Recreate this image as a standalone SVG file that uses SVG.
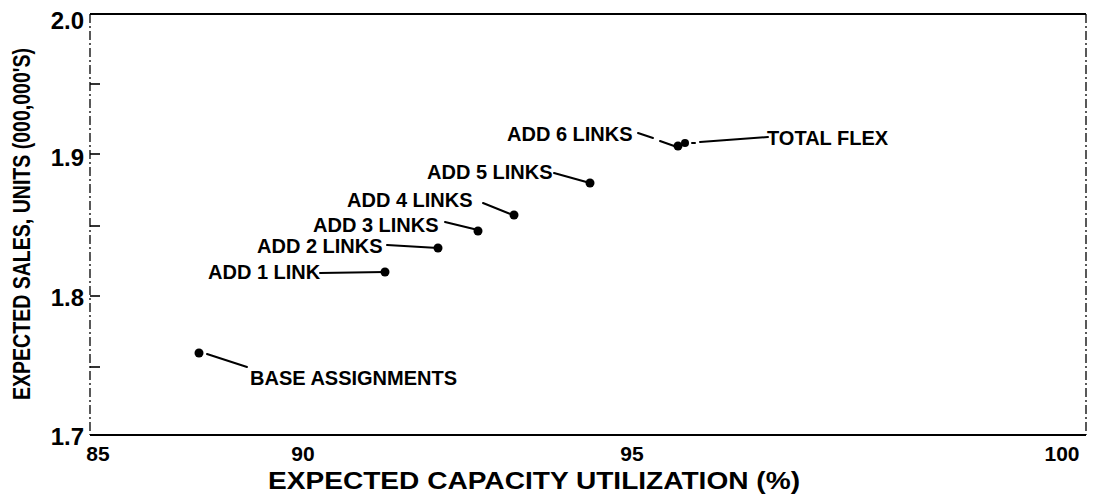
<svg xmlns="http://www.w3.org/2000/svg" width="1110" height="500" viewBox="0 0 1110 500">
<style>
.t{font-family:"Liberation Sans",Arial,sans-serif;font-weight:bold;fill:#000}
.lab{font-size:20px}
.yt{font-size:24px;text-anchor:end}
.xt{font-size:21px;text-anchor:middle}
.ld{stroke:#000;stroke-width:2;fill:none;stroke-linecap:round}
.dot{fill:#000}
.ax{stroke:#000;fill:none}
</style>
<rect width="1110" height="500" fill="#fff"/>
<g id="axes">
<line class="ax" x1="90" y1="14" x2="1086" y2="14" stroke-width="2.2"/>
<line class="ax" x1="90" y1="435" x2="1086" y2="435" stroke-width="2.2"/>
<line class="ax" x1="90" y1="14" x2="90" y2="435" stroke-width="1.3" stroke-dasharray="9 3 2 3"/>
<line class="ax" x1="1086" y1="14" x2="1086" y2="435" stroke-width="1.3" stroke-dasharray="9 3 2 3"/>
<g stroke="#000" stroke-width="1.6">
<line x1="90" y1="84" x2="100" y2="84"/>
<line x1="90" y1="154" x2="100" y2="154"/>
<line x1="90" y1="226" x2="100" y2="226"/>
<line x1="90" y1="296" x2="100" y2="296"/>
<line x1="90" y1="367" x2="100" y2="367"/>
</g>
<text class="t yt" x="84" y="29">2.0</text>
<text class="t yt" x="84" y="166">1.9</text>
<text class="t yt" x="84" y="306">1.8</text>
<text class="t yt" x="84" y="445">1.7</text>
<text class="t xt" x="98" y="461">85</text>
<text class="t xt" x="303" y="461">90</text>
<text class="t xt" x="632" y="461">95</text>
<text class="t xt" x="1062" y="461">100</text>
<text class="t" x="534" y="489" font-size="24" text-anchor="middle" textLength="532" lengthAdjust="spacingAndGlyphs">EXPECTED CAPACITY UTILIZATION (%)</text>
<text class="t" transform="translate(30,224) rotate(-90)" font-size="23" text-anchor="middle" textLength="352" lengthAdjust="spacingAndGlyphs">EXPECTED SALES, UNITS (000,000'S)</text>
</g>
<g id="connectors">
<line class="ld" x1="207" y1="354" x2="247" y2="367"/>
<line class="ld" x1="320" y1="273" x2="385" y2="272"/>
<line class="ld" x1="387" y1="245" x2="438" y2="248"/>
<line class="ld" x1="445" y1="222" x2="478" y2="230"/>
<line class="ld" x1="483" y1="203" x2="513" y2="215"/>
<line class="ld" x1="554" y1="173" x2="590" y2="183"/>
<line class="ld" x1="638" y1="133" x2="653" y2="138"/>
<line class="ld" x1="660" y1="141" x2="677" y2="147"/>
<line class="ld" x1="692" y1="143" x2="695" y2="143"/>
<line class="ld" x1="700" y1="142" x2="768" y2="137"/>
</g>
<g id="base"><circle class="dot" cx="199" cy="353" r="4.5"/><text class="t lab" x="250" y="385">BASE ASSIGNMENTS</text></g>
<g id="add1"><circle class="dot" cx="385" cy="272" r="4.5"/><text class="t lab" x="208" y="279">ADD 1 LINK</text></g>
<g id="add2"><circle class="dot" cx="438" cy="248" r="4.5"/><text class="t lab" x="257" y="253">ADD 2 LINKS</text></g>
<g id="add3"><circle class="dot" cx="478" cy="231" r="4.5"/><text class="t lab" x="313" y="232">ADD 3 LINKS</text></g>
<g id="add4"><circle class="dot" cx="514" cy="215" r="4.5"/><text class="t lab" x="347" y="207">ADD 4 LINKS</text></g>
<g id="add5"><circle class="dot" cx="590" cy="183" r="4.5"/><text class="t lab" x="427" y="179">ADD 5 LINKS</text></g>
<g id="add6"><circle class="dot" cx="678" cy="146" r="4.5"/><text class="t lab" x="507" y="141">ADD 6 LINKS</text></g>
<g id="totalflex"><circle class="dot" cx="685" cy="143" r="4"/><text class="t lab" x="767" y="145">TOTAL FLEX</text></g>
</svg>
